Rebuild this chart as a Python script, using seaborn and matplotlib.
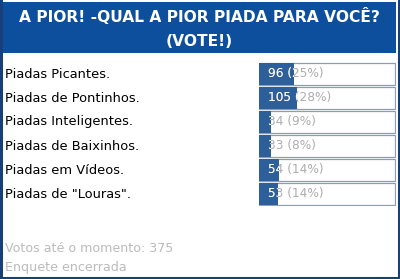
import matplotlib
matplotlib.use("Agg")
import matplotlib.pyplot as plt
import seaborn as sns
from matplotlib.patches import Rectangle
from matplotlib.transforms import blended_transform_factory, offset_copy, TransformedBbox

title_lines = ["A PIOR! -QUAL A PIOR PIADA PARA VOCÊ?", "(VOTE!)"]
options = ["Piadas Picantes.", "Piadas de Pontinhos.", "Piadas Inteligentes.",
           "Piadas de Baixinhos.", "Piadas em Vídeos.", 'Piadas de "Louras".']
votes = [96, 105, 34, 33, 54, 53]
percents = [25, 28, 9, 8, 14, 14]
total_votes = 375
footer = ["Votos até o momento: %d" % total_votes, "Enquete encerrada"]

sns.set_theme(style="white")
plt.rcParams["font.family"] = ["DejaVu Sans"]

W, H = 400, 279
fig = plt.figure(figsize=(W / 100, H / 100), dpi=100)

# background / frame axes in pixel units
bg = fig.add_axes([0, 0, 1, 1])
bg.set_xlim(0, W)
bg.set_ylim(H, 0)
bg.axis("off")
bg.add_patch(Rectangle((0, 0), W, H, facecolor="white", edgecolor="none"))
frame = "#17407a"
bg.plot([1, 1, W - 1.5, W - 1.5], [0, H - 1.5, H - 1.5, 0], color=frame, lw=2.2, solid_joinstyle="miter")
bg.add_patch(Rectangle((3, 2), 393, 51, facecolor="#0d4f9c", edgecolor="none"))
title_kw = dict(color="white", fontsize=11.2, fontweight="semibold", ha="center", va="center")
bg.text(199, 16, title_lines[0], **title_kw)
bg.text(199, 41, title_lines[1], **title_kw)
bg.text(5, 248, footer[0], color="#bbbbbb", fontsize=9.1, va="center")
bg.text(5, 267, footer[1], color="#bbbbbb", fontsize=9.1, va="center")

# bars axes
ax = fig.add_axes([259 / W, 1 - 206 / H, 137 / W, 144 / H])
fill_pct = [v / total_votes * 100 for v in votes]
sns.barplot(x=[100] * len(options), y=options, orient="h", ax=ax, width=0.9,
            color="white", edgecolor="#8e9db2", linewidth=0.9, saturation=1)
n_box = len(ax.patches)
sns.barplot(x=fill_pct, y=options, orient="h", ax=ax, width=0.9,
            color="#2d5f9a", edgecolor="none", saturation=1)
fills = ax.patches[n_box:]
ax.set_xlim(0, 100.5)
ax.set_ylim(len(options) - 0.5, -0.5)
ax.axis("off")

lab_tr = blended_transform_factory(fig.transFigure, ax.transData)
for i, name in enumerate(options):
    ax.text(5 / W, i, name, transform=lab_tr, color="black", fontsize=9.4,
            va="center", ha="left", clip_on=False)

txt_tr = offset_copy(ax.transData, fig=fig, x=8.5, y=0, units="dots")
for i, (v, p) in enumerate(zip(votes, percents)):
    s = "%d (%d%%)" % (v, p)
    ax.text(0, i, s, transform=txt_tr, color="#adadad", fontsize=8.7,
            va="center", ha="left", clip_on=False)
    t = ax.text(0, i, s, transform=txt_tr, color="white", fontsize=8.7, va="center", ha="left")
    t.set_clip_path(None)
    t.set_clip_box(TransformedBbox(fills[i].get_bbox(), ax.transData))
    t.set_clip_on(True)

fig.savefig("out.png", dpi=100)
